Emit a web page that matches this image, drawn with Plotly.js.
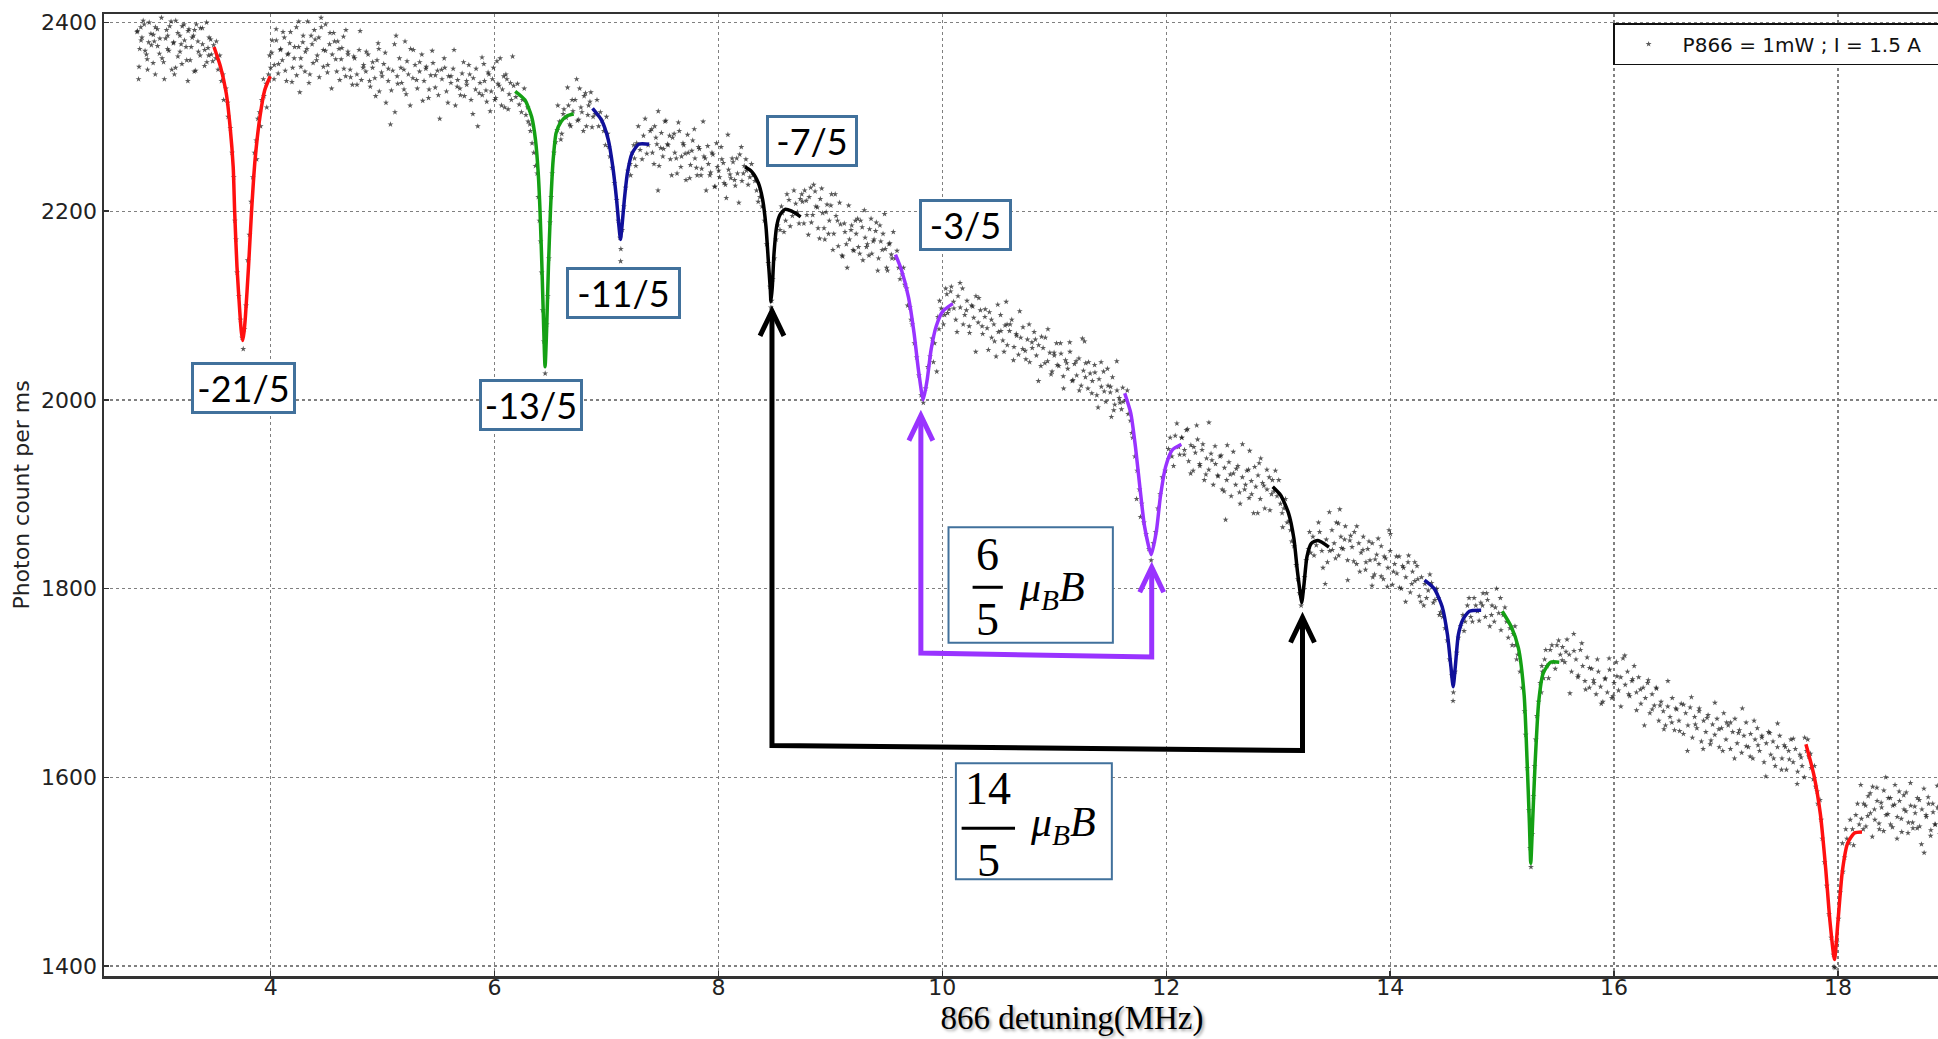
<!DOCTYPE html>
<html><head><meta charset="utf-8">
<script src="https://cdn.plot.ly/plotly-3.0.1.min.js"></script>
<style>html,body{margin:0;padding:0;overflow:hidden;background:#fff}#chart{width:2040px;height:1039px}</style>
</head><body><div id="chart"></div>
<script>
// ---------- measured scan points [detuning MHz, photon count per ms] ----------
const scanStart = [[2.81,2391],[2.82,2340],[2.83,2372],[2.84,2395],[2.85,2384],[2.87,2398],[2.89,2366],[2.90,2350],[2.91,2379],[2.93,2388],[2.95,2357],[2.96,2380],[2.97,2395],[2.99,2375],[3.01,2383],[3.03,2362],[3.05,2340],[3.07,2392],[3.08,2386],[3.09,2370],[3.11,2401],[3.13,2378],[3.14,2345],[3.15,2352],[3.17,2389],[3.19,2369],[3.20,2377],[3.21,2396],[3.23,2381],[3.25,2360],[3.26,2338],[3.27,2393],[3.29,2374],[3.31,2386],[3.32,2392],[3.33,2349],[3.35,2380],[3.37,2365],[3.39,2394],[3.41,2371],[3.43,2358],[3.44,2373],[3.45,2384],[3.47,2366],[3.49,2376],[3.51,2362],
  [2.806,2390],[2.824,2353],[2.842,2381],[2.861,2402],[2.878,2370],[2.897,2361],[2.915,2400],[2.934,2376],[2.952,2387],[2.969,2345],[2.988,2393],[3.006,2367],[3.024,2405],[3.043,2358],[3.061,2383],[3.079,2372],[3.098,2396],[3.116,2350],[3.134,2379],[3.152,2402],[3.171,2364],[3.189,2386],[3.207,2356],[3.226,2398],[3.244,2374],[3.262,2391],[3.281,2360],[3.299,2384],[3.317,2348],[3.336,2398],[3.354,2369],[3.372,2394],[3.391,2377],[3.409,2354],[3.427,2400],[3.446,2365],[3.464,2382],[3.482,2359]];
const scanDipRed1 = [[3.515,2380],[3.53,2350],[3.545,2365],[3.56,2338],[3.575,2345],[3.58,2318],[3.60,2330],[3.615,2315],[3.62,2300],[3.64,2288],[3.655,2262],[3.67,2236],[3.68,2190],[3.69,2170],[3.70,2135],[3.715,2110],[3.73,2085],[3.745,2066],[3.755,2054],[3.765,2075],[3.78,2100],[3.795,2148],[3.81,2175],[3.825,2210],[3.84,2236],[3.855,2262],[3.87,2275],[3.875,2255],[3.885,2298],[3.90,2305],[3.91,2290],[3.92,2318],[3.935,2340],[3.94,2322],[3.96,2335],[3.965,2310],[3.98,2345],[3.99,2365],[4.00,2352]];
const scanB = [[4.01,2368],[4.03,2340],[4.05,2381],[4.07,2356],[4.09,2372],[4.11,2390],[4.13,2349],[4.15,2366],[4.17,2378],[4.19,2337],[4.21,2362],[4.23,2395],[4.25,2374],[4.26,2326],[4.27,2353],[4.29,2386],[4.31,2369],[4.33,2401],[4.35,2345],[4.37,2377],[4.39,2392],[4.41,2360],[4.43,2384],[4.45,2405],[4.47,2371],[4.49,2398],[4.51,2355],[4.53,2389],[4.55,2366],[4.57,2380],[4.59,2348],[4.61,2372],[4.63,2361],[4.65,2385],[4.67,2343],[4.69,2369],
  [4.014,2381],[4.032,2355],[4.049,2393],[4.067,2346],[4.086,2371],[4.104,2360],[4.122,2384],[4.141,2338],[4.159,2367],[4.177,2390],[4.196,2352],[4.214,2374],[4.232,2344],[4.251,2401],[4.269,2362],[4.287,2379],[4.306,2348],[4.324,2372],[4.342,2336],[4.361,2386],[4.379,2357],[4.397,2382],[4.416,2365],[4.434,2342],[4.452,2395],[4.471,2353],[4.489,2370],[4.507,2347],[4.526,2377],[4.544,2330],[4.562,2389],[4.581,2361],[4.599,2380],[4.617,2339],[4.636,2373],[4.654,2351],[4.672,2392],[4.691,2366]];
const scanC = [[4.71,2350],[4.73,2334],[4.75,2362],[4.77,2345],[4.79,2371],[4.81,2339],[4.83,2355],[4.85,2348],[4.87,2366],[4.89,2332],[4.91,2352],[4.93,2341],[4.95,2360],[4.96,2378],[4.97,2327],[4.99,2347],[5.01,2356],[5.03,2315],[5.05,2338],[5.07,2292],[5.09,2349],[5.11,2305],[5.12,2386],[5.13,2343],[5.15,2362],[5.17,2336],[5.19,2350],[5.20,2380],[5.21,2324],[5.23,2345],[5.25,2372],[5.27,2341],[5.29,2355],[5.31,2330],[5.33,2348],[5.35,2366],[5.37,2338],[5.39,2353],[5.41,2320],[5.43,2344],[5.45,2357],[5.47,2331],[5.49,2349],[5.51,2298],[5.53,2340],[5.55,2362],[5.57,2327],[5.59,2343],[5.61,2336],[5.63,2351],[5.65,2312],[5.67,2339],[5.69,2330],[5.71,2346],[5.73,2322],[5.75,2338],[5.77,2355],[5.79,2318],[5.81,2341],[5.83,2329],[5.85,2290],[5.87,2336],[5.89,2323],
  [4.714,2342],[4.742,2364],[4.771,2334],[4.799,2391],[4.826,2352],[4.854,2369],[4.883,2338],[4.911,2358],[4.938,2322],[4.966,2372],[4.995,2343],[5.023,2368],[5.051,2351],[5.078,2328],[5.106,2377],[5.135,2335],[5.163,2352],[5.191,2329],[5.218,2359],[5.246,2312],[5.275,2371],[5.303,2339],[5.331,2358],[5.358,2317],[5.386,2351],[5.415,2329],[5.443,2370],[5.471,2344],[5.498,2323],[5.526,2350],[5.555,2352],[5.583,2315],[5.611,2343],[5.638,2371],[5.666,2332],[5.695,2323],[5.723,2358],[5.751,2334],[5.778,2345],[5.806,2303],[5.835,2351],[5.863,2325],[5.888,2363]];
const scanD = [[5.91,2338],[5.93,2316],[5.95,2345],[5.97,2327],[5.99,2352],[6.01,2320],[6.03,2335],[6.05,2362],[6.07,2329],[6.09,2310],[6.11,2340],[6.13,2324],[6.15,2318],[6.17,2333],
  [5.904,2356],[5.923,2328],[5.942,2347],[5.961,2306],[5.981,2340],[6.002,2318],[6.021,2359],[6.041,2333],[6.062,2312],[6.082,2343],[6.101,2345],[6.121,2308],[6.142,2336],[6.161,2364]];
const scanDipGreen1 = [[6.19,2321],[6.205,2335],[6.22,2313],[6.24,2305],[6.25,2318],[6.265,2330],[6.28,2302],[6.295,2310],[6.30,2295],[6.315,2292],[6.32,2285],[6.335,2272],[6.35,2262],[6.365,2248],[6.38,2240],[6.39,2215],[6.40,2190],[6.41,2168],[6.42,2135],[6.43,2095],[6.44,2062],[6.452,2028],[6.465,2080],[6.475,2110],[6.485,2150],[6.495,2188],[6.505,2215],[6.515,2240],[6.53,2262],[6.545,2273],[6.56,2286],[6.58,2295],[6.60,2282],[6.62,2308],[6.64,2299],[6.66,2312],[6.68,2290],[6.70,2306],[6.72,2318],[6.74,2296],[6.76,2330],[6.78,2305],[6.80,2322],[6.82,2290],[6.84,2312],[6.86,2326],[6.88,2300],
  [6.565,2312],[6.592,2276],[6.613,2303],[6.652,2331],[6.671,2292],[6.693,2318],[6.733,2340],[6.752,2297],[6.771,2310],[6.793,2285],[6.812,2325],[6.833,2302],[6.852,2316],[6.871,2289]];
const scanDipBlue1 = [[6.90,2303],[6.915,2318],[6.93,2290],[6.945,2305],[6.96,2296],[6.975,2285],[6.99,2270],[7.00,2300],[7.01,2282],[7.02,2268],[7.03,2258],[7.05,2246],[7.07,2230],[7.09,2212],[7.105,2190],[7.12,2172],[7.126,2147],[7.128,2160],[7.14,2180],[7.155,2205],[7.17,2225],[7.19,2243],[7.21,2250],[7.215,2238],[7.23,2262],[7.243,2270],[7.25,2256],[7.262,2248],[7.27,2272],[7.284,2290],[7.30,2265],[7.318,2255],[7.33,2280],[7.345,2298],[7.36,2261],[7.372,2270],[7.39,2285]];
const scanE = [[7.41,2262],[7.43,2290],[7.45,2271],[7.46,2222],[7.47,2248],[7.49,2283],[7.51,2266],[7.53,2296],[7.55,2270],[7.57,2255],[7.59,2278],[7.61,2262],[7.63,2240],[7.65,2285],[7.67,2258],[7.69,2270],[7.71,2233],[7.73,2262],[7.75,2249],[7.77,2275],[7.79,2256],[7.81,2238],[7.83,2266],[7.85,2245],[7.87,2258],[7.89,2222],[7.91,2250],[7.93,2241],[7.95,2260],[7.97,2226],[7.99,2247],[8.01,2236],[8.03,2255],[8.05,2230],[8.07,2214],[8.09,2244],[8.11,2235],[8.13,2252],[8.15,2227],[8.17,2240],[8.19,2260],[8.21,2232],[8.23,2248],
  [7.404,2287],[7.424,2250],[7.441,2278],[7.462,2306],[7.484,2267],[7.503,2258],[7.522,2295],[7.544,2271],[7.563,2280],[7.582,2238],[7.604,2282],[7.623,2256],[7.642,2294],[7.664,2247],[7.683,2272],[7.702,2261],[7.724,2281],[7.743,2235],[7.762,2264],[7.784,2287],[7.803,2246],[7.822,2268],[7.844,2238],[7.863,2295],[7.882,2256],[7.904,2269],[7.923,2238],[7.942,2262],[7.964,2226],[7.983,2272],[8.002,2243],[8.024,2268],[8.043,2251],[8.062,2228],[8.084,2281],[8.103,2239],[8.122,2256],[8.144,2233],[8.163,2256],[8.182,2209],[8.204,2268],[8.222,2240]];
const scanDipBlack1 = [[8.245,2255],[8.25,2243],[8.265,2228],[8.28,2236],[8.295,2250],[8.31,2238],[8.325,2232],[8.34,2222],[8.355,2210],[8.37,2215],[8.39,2205],[8.41,2190],[8.43,2165],[8.445,2145],[8.46,2120],[8.468,2098],[8.475,2105],[8.485,2128],[8.50,2150],[8.515,2170],[8.53,2185],[8.55,2180],[8.562,2205],[8.57,2198],[8.585,2178],[8.60,2190],[8.612,2218],[8.63,2212],[8.641,2184],[8.66,2195],[8.674,2222],[8.69,2208],[8.705,2199],[8.72,2187],[8.731,2213]];
const scanF = [[8.75,2210],[8.77,2222],[8.79,2196],[8.81,2215],[8.83,2188],[8.85,2228],[8.87,2205],[8.89,2182],[8.91,2213],[8.93,2198],[8.95,2170],[8.97,2207],[8.99,2190],[9.01,2218],[9.03,2176],[9.05,2195],[9.07,2163],[9.09,2186],[9.11,2152],[9.13,2178],[9.15,2140],[9.17,2170],[9.19,2185],[9.21,2158],[9.23,2176],[9.25,2162],[9.27,2190],[9.29,2148],[9.31,2172],[9.33,2165],[9.35,2181],[9.37,2155],[9.39,2170],[9.41,2188],[9.43,2150],[9.45,2168],[9.47,2176],[9.49,2160],[9.51,2137],[9.53,2166],[9.55,2150],
  [8.744,2218],[8.763,2187],[8.784,2211],[8.803,2175],[8.824,2225],[8.842,2196],[8.863,2221],[8.884,2204],[8.903,2171],[8.922,2224],[8.943,2182],[8.962,2199],[8.983,2176],[9.004,2206],[9.022,2159],[9.043,2218],[9.063,2190],[9.082,2209],[9.103,2153],[9.124,2187],[9.142,2165],[9.163,2206],[9.184,2180],[9.202,2159],[9.223,2190],[9.243,2192],[9.262,2155],[9.284,2183],[9.303,2201],[9.322,2162],[9.344,2153],[9.363,2192],[9.382,2168],[9.404,2179],[9.423,2137],[9.442,2185],[9.463,2159],[9.484,2197],[9.502,2140],[9.523,2165],[9.544,2154],[9.562,2178]];
const scanDipPurple1 = [[9.58,2150],[9.595,2158],[9.61,2140],[9.622,2128],[9.64,2133],[9.652,2140],[9.665,2122],[9.68,2118],[9.69,2100],[9.71,2098],[9.72,2085],[9.73,2080],[9.75,2060],[9.77,2045],[9.79,2026],[9.81,2005],[9.83,1997],[9.85,2012],[9.87,2035],[9.89,2046],[9.91,2065],[9.92,2040],[9.93,2060],[9.95,2030],[9.96,2088],[9.97,2075],[9.975,2105],[9.99,2097],[10.01,2080],[10.02,2090],[10.03,2118]];
const scanG = [[10.04,2112],[10.06,2096],[10.08,2120],[10.10,2104],[10.12,2085],[10.14,2110],[10.16,2098],[10.18,2118],[10.20,2090],[10.22,2105],[10.24,2078],[10.26,2100],[10.28,2087],[10.30,2110],[10.32,2082],[10.34,2095],[10.36,2070],[10.38,2088],[10.40,2076],[10.42,2093],[10.44,2066],[10.46,2080],[10.48,2046],[10.50,2072],[10.52,2090],[10.54,2063],[10.56,2079],[10.57,2104],[10.58,2058],[10.60,2073],[10.62,2085],[10.64,2056],[10.66,2070],[10.68,2048],[10.70,2066],[10.72,2077],[10.74,2052],[10.76,2064],[10.78,2040],[10.80,2061],[10.82,2072],[10.84,2047],[10.86,2058],[10.88,2036],[10.90,2055],[10.92,2066],[10.94,2041],[10.96,2050],[10.98,2030],[11.00,2047],[11.02,2060],[11.04,2036],[11.06,2049],[11.08,2025],[11.10,2042],[11.12,2033],[11.14,2051],[11.16,2020],[11.18,2038],[11.20,2026],[11.22,2044],[11.24,2015],[11.26,2031],[11.27,2062],[11.28,2039],[11.30,2012],[11.32,2028],[11.34,2020],[11.36,2037],[11.38,2005],[11.40,2022],[11.42,2014],[11.44,2030],[11.46,1998],[11.48,2015],[11.50,2008],[11.51,1982],[11.52,2024],[11.54,1995],[11.56,2010],[11.58,2002],[11.60,1990],
  [10.047,2092],[10.074,2115],[10.103,2097],[10.131,2072],[10.158,2124],[10.186,2080],[10.215,2095],[10.243,2071],[10.271,2099],[10.298,2051],[10.326,2108],[10.355,2078],[10.383,2096],[10.411,2053],[10.438,2085],[10.466,2062],[10.495,2101],[10.523,2073],[10.551,2051],[10.578,2080],[10.606,2080],[10.635,2042],[10.663,2068],[10.691,2094],[10.718,2054],[10.746,2043],[10.775,2080],[10.803,2055],[10.831,2064],[10.858,2020],[10.886,2067],[10.915,2039],[10.943,2075],[10.971,2027],[10.998,2050],[11.026,2037],[11.055,2060],[11.083,2012],[11.111,2039],[11.138,2061],[11.166,2021],[11.195,2041],[11.223,2010],[11.251,2065],[11.278,2024],[11.306,2040],[11.335,2007],[11.363,2029],[11.391,1992],[11.418,2040],[11.446,2009],[11.475,2033],[11.503,2014],[11.531,1989],[11.558,2041],[11.586,1997],[11.611,2013]];
const scanDipPurple2 = [[11.615,1998],[11.64,2000],[11.652,2010],[11.66,1985],[11.68,1978],[11.692,1965],[11.70,1960],[11.72,1940],[11.735,1895],[11.74,1925],[11.76,1905],[11.77,1876],[11.78,1890],[11.80,1870],[11.82,1858],[11.845,1842],[11.865,1830],[11.885,1848],[11.905,1860],[11.925,1885],[11.945,1900],[11.965,1918],[11.99,1925],[12.02,1948],[12.035,1960],[12.05,1940],[12.065,1930],[12.08,1962],[12.095,1975],[12.11,1950],[12.12,1942]];
const scanH = [[12.14,1960],[12.16,1942],[12.18,1968],[12.20,1935],[12.22,1952],[12.24,1925],[12.26,1944],[12.28,1958],[12.30,1930],[12.32,1947],[12.34,1915],[12.36,1938],[12.38,1926],[12.40,1943],[12.42,1910],[12.44,1932],[12.46,1920],[12.48,1940],[12.50,1905],[12.52,1928],[12.53,1873],[12.54,1915],[12.56,1934],[12.58,1898],[12.60,1922],[12.62,1910],[12.64,1930],[12.66,1890],[12.68,1918],[12.70,1905],[12.72,1925],[12.74,1896],[12.745,1946],[12.76,1914],[12.78,1880],[12.80,1908],[12.82,1920],[12.83,1933],[12.84,1895],[12.86,1912],[12.88,1885],[12.90,1905],[12.92,1918],[12.94,1900],
  [12.137,1960],[12.163,1947],[12.191,1969],[12.218,1922],[12.246,1950],[12.272,1973],[12.299,1932],[12.327,1953],[12.354,1921],[12.381,1976],[12.408,1936],[12.436,1951],[12.463,1919],[12.49,1941],[12.517,1903],[12.545,1952],[12.572,1921],[12.599,1945],[12.626,1927],[12.654,1902],[12.681,1953],[12.708,1910],[12.735,1926],[12.763,1900],[12.79,1929],[12.817,1880],[12.844,1938],[12.872,1909],[12.899,1926],[12.926,1883],[12.948,1915]];
const scanDipBlack2 = [[12.96,1903],[12.975,1925],[12.99,1898],[13.005,1915],[13.02,1890],[13.035,1880],[13.04,1865],[13.05,1885],[13.065,1895],[13.08,1870],[13.10,1872],[13.11,1862],[13.12,1850],[13.14,1845],[13.16,1825],[13.175,1810],[13.19,1795],[13.205,1782],[13.22,1798],[13.235,1812],[13.25,1830],[13.27,1842],[13.28,1860],[13.29,1838],[13.31,1855],[13.32,1835],[13.34,1846],[13.36,1870],[13.37,1860],[13.39,1840],[13.40,1822],[13.42,1805],[13.43,1852],[13.44,1828]];
const scanI = [[13.46,1840],[13.48,1862],[13.50,1848],[13.52,1870],[13.54,1835],[13.55,1884],[13.56,1855],[13.58,1842],[13.60,1866],[13.62,1830],[13.64,1851],[13.66,1844],[13.68,1860],[13.70,1826],[13.72,1848],[13.74,1838],[13.76,1855],[13.78,1820],[13.80,1842],[13.82,1830],[13.84,1848],[13.845,1812],[13.86,1815],[13.88,1836],[13.90,1826],[13.92,1845],[13.94,1810],[13.96,1832],[13.98,1822],[13.99,1862],[14.00,1840],[14.02,1804],[14.04,1826],[14.06,1816],[14.08,1834],[14.10,1800],[14.12,1822],[14.14,1812],[14.16,1828],[14.18,1796],[14.20,1818],[14.22,1808],[14.24,1824],[14.26,1792],[14.28,1812],[14.30,1782],
  [13.457,1881],[13.484,1841],[13.512,1832],[13.538,1869],[13.566,1843],[13.593,1852],[13.621,1809],[13.647,1856],[13.675,1829],[13.702,1866],[13.729,1818],[13.757,1841],[13.784,1828],[13.811,1850],[13.838,1803],[13.866,1831],[13.893,1853],[13.92,1813],[13.947,1834],[13.975,1802],[14.002,1858],[14.029,1818],[14.056,1834],[14.084,1801],[14.111,1824],[14.138,1786],[14.165,1835],[14.193,1805],[14.22,1828],[14.247,1810],[14.274,1786]];
const scanDipBlue2 = [[14.31,1805],[14.325,1790],[14.34,1798],[14.355,1815],[14.37,1806],[14.385,1785],[14.40,1788],[14.415,1800],[14.43,1790],[14.44,1772],[14.45,1775],[14.47,1770],[14.49,1758],[14.51,1745],[14.53,1725],[14.55,1708],[14.562,1681],[14.565,1690],[14.58,1712],[14.595,1732],[14.61,1748],[14.63,1760],[14.65,1772],[14.66,1755],[14.67,1765],[14.69,1782],[14.705,1790],[14.72,1770],[14.735,1765],[14.75,1790],[14.765,1782],[14.78,1776],[14.795,1766],[14.81,1785],[14.825,1782],[14.83,1795],[14.85,1770],[14.862,1795],[14.87,1788],[14.89,1760],[14.905,1772],[14.91,1782],[14.93,1765],[14.94,1780],[14.95,1800],[14.97,1774],[14.985,1790],[14.99,1756]];
const scanDipGreen2 = [[15.01,1772],[15.025,1780],[15.04,1765],[15.055,1748],[15.07,1758],[15.09,1740],[15.10,1752],[15.115,1760],[15.12,1740],[15.13,1725],[15.14,1730],[15.16,1712],[15.18,1695],[15.20,1670],[15.21,1645],[15.225,1610],[15.24,1565],[15.25,1525],[15.258,1505],[15.27,1540],[15.28,1580],[15.29,1612],[15.30,1640],[15.31,1665],[15.325,1680],[15.34,1700],[15.35,1690],[15.355,1718],[15.36,1712],[15.37,1705],[15.38,1725],[15.39,1735],[15.40,1718],[15.415,1705],[15.43,1735],[15.445,1740],[15.46,1722],[15.475,1715],[15.49,1740],[15.505,1745],[15.52,1730]];
const scanJ = [[15.54,1738],[15.56,1722],[15.58,1746],[15.60,1730],[15.62,1712],[15.64,1752],[15.66,1725],[15.68,1708],[15.70,1735],[15.72,1718],[15.74,1702],[15.76,1727],[15.78,1695],[15.80,1715],[15.82,1700],[15.84,1688],[15.86,1712],[15.88,1696],[15.90,1680],[15.92,1704],[15.94,1690],[15.96,1714],[15.98,1684],[16.00,1700],[16.02,1722],[16.04,1692],[16.06,1706],[16.08,1726],[16.10,1698],[16.12,1712],[16.14,1686],[16.16,1702],[16.18,1718],[16.20,1690],[16.22,1706],[16.24,1678],[16.26,1695],[16.28,1684],[16.30,1700],[16.32,1668],[16.34,1688],[16.36,1676],[16.38,1694],[16.40,1660],[16.42,1680],[16.44,1670],[16.46,1655],[16.48,1675],[16.50,1664],[16.52,1684],[16.54,1650],[16.56,1672],[16.58,1660],[16.60,1678],[16.62,1646],[16.64,1668],[16.66,1655],[16.68,1674],[16.70,1642],[16.72,1664],[16.74,1652],[16.76,1670],[16.78,1638],[16.80,1660],[16.82,1648],[16.84,1666],[16.86,1635],[16.88,1656],[16.90,1645],[16.92,1662],[16.94,1632],[16.96,1652],[16.98,1668],[17.00,1640],[17.02,1655],[17.04,1630],[17.06,1648],[17.08,1662],[17.10,1636],[17.12,1650],[17.14,1626],[17.16,1644],[17.18,1658],[17.20,1632],[17.22,1646],[17.24,1620],[17.26,1640],[17.28,1652],[17.30,1628],[17.32,1642],[17.34,1616],[17.36,1636],[17.38,1648],[17.40,1624],[17.42,1638],[17.44,1612],[17.46,1632],[17.48,1644],[17.50,1620],[17.52,1634],[17.54,1608],[17.56,1628],[17.58,1640],[17.60,1616],[17.62,1630],[17.64,1606],[17.66,1624],[17.68,1612],[17.70,1600],
  [15.537,1724],[15.571,1733],[15.606,1689],[15.642,1734],[15.677,1706],[15.712,1742],[15.746,1693],[15.781,1716],[15.817,1703],[15.851,1725],[15.886,1678],[15.921,1705],[15.956,1726],[15.991,1686],[16.026,1707],[16.061,1675],[16.096,1729],[16.131,1688],[16.166,1704],[16.201,1671],[16.236,1693],[16.271,1655],[16.306,1703],[16.341,1672],[16.376,1695],[16.411,1676],[16.446,1651],[16.481,1702],[16.516,1658],[16.551,1673],[16.586,1649],[16.621,1677],[16.656,1628],[16.691,1685],[16.726,1656],[16.761,1673],[16.796,1630],[16.831,1663],[16.866,1639],[16.901,1679],[16.936,1651],[16.971,1628],[17.006,1658],[17.041,1658],[17.076,1620],[17.111,1647],[17.146,1673],[17.181,1633],[17.216,1622],[17.251,1660],[17.286,1634],[17.321,1644],[17.356,1601],[17.391,1647],[17.426,1620],[17.461,1657],[17.496,1608],[17.531,1632],[17.566,1619],[17.601,1641],[17.636,1593],[17.671,1621],[17.703,1642]];
const scanDipRed2 = [[17.72,1628],[17.73,1640],[17.74,1622],[17.755,1625],[17.76,1610],[17.78,1598],[17.79,1612],[17.80,1590],[17.815,1585],[17.82,1572],[17.84,1576],[17.85,1555],[17.86,1535],[17.88,1510],[17.90,1485],[17.92,1455],[17.94,1430],[17.96,1412],[17.965,1399],[17.975,1398],[17.99,1425],[18.005,1450],[18.02,1478],[18.04,1530],[18.045,1500],[18.06,1515],[18.07,1545],[18.08,1535],[18.10,1530],[18.11,1555],[18.13,1545],[18.14,1528],[18.16,1560],[18.175,1572],[18.19,1550]];
const scanEnd = [[18.21,1556],[18.23,1572],[18.25,1548],[18.27,1580],[18.29,1562],[18.31,1590],[18.33,1555],[18.35,1575],[18.37,1545],[18.39,1568],[18.41,1586],[18.43,1560],[18.45,1578],[18.47,1550],[18.49,1570],[18.51,1592],[18.53,1558],[18.55,1575],[18.57,1542],[18.59,1566],[18.61,1584],[18.63,1552],[18.65,1570],[18.67,1546],[18.69,1562],[18.71,1578],[18.73,1548],[18.75,1566],[18.77,1520],[18.79,1558],[18.81,1572],[18.83,1544],[18.85,1563],[18.87,1550],[18.89,1568],[18.91,1540],[18.93,1560],
  [18.204,1592],[18.226,1545],[18.247,1570],[18.266,1559],[18.288,1583],[18.307,1537],[18.326,1566],[18.348,1589],[18.367,1551],[18.386,1573],[18.408,1543],[18.427,1600],[18.446,1561],[18.468,1578],[18.487,1547],[18.506,1571],[18.528,1535],[18.547,1585],[18.566,1556],[18.588,1581],[18.607,1564],[18.626,1541],[18.648,1594],[18.667,1552],[18.686,1569],[18.708,1546],[18.727,1576],[18.746,1529],[18.768,1588],[18.787,1560],[18.806,1579],[18.828,1538],[18.847,1572],[18.866,1550],[18.888,1591],[18.907,1565],[18.926,1544],[18.948,1575]];

// ---------- fitted resonance curves ----------
const fitRed1X = [3.494,3.552,3.603,3.637,3.665,3.678,3.699,3.727,3.738,3.750,3.762,3.774,3.802,3.829,3.860,3.904,3.946,3.996];
const fitRed1Y = [2374,2353,2325,2290,2247,2200,2141,2088,2072,2063,2072,2088,2141,2200,2254,2300,2328,2343];
const fitGreen1X = [6.184,6.270,6.331,6.365,6.390,6.406,6.423,6.440,6.451,6.464,6.481,6.499,6.523,6.550,6.595,6.646,6.707];
const fitGreen1Y = [2327,2318,2300,2276,2240,2200,2141,2071,2035,2071,2141,2200,2254,2283,2295,2301,2303];
const fitBlue1X = [6.875,6.953,7.015,7.056,7.090,7.111,7.125,7.138,7.159,7.186,7.227,7.288,7.381];
const fitBlue1Y = [2309,2297,2276,2247,2212,2184,2170,2184,2212,2240,2261,2271,2271];
const fitBlack1X = [8.237,8.297,8.356,8.395,8.424,8.445,8.463,8.469,8.481,8.496,8.520,8.549,8.594,8.654,8.734];
const fitBlack1Y = [2247,2242,2230,2212,2184,2148,2117,2104,2120,2155,2184,2196,2202,2200,2194];
const fitPurple1X = [9.581,9.634,9.697,9.747,9.786,9.829,9.864,9.899,9.945,10.005,10.093];
const fitPurple1Y = [2154,2138,2109,2071,2032,2000,2021,2053,2078,2094,2102];
const fitPurple2X = [11.629,11.683,11.725,11.764,11.806,11.866,11.913,11.947,11.994,12.054,12.135];
const fitPurple2Y = [2007,1986,1950,1908,1866,1836,1862,1897,1929,1947,1953];
const fitBlack2X = [12.951,13.022,13.092,13.140,13.171,13.199,13.210,13.230,13.257,13.296,13.355,13.453];
const fitBlack2Y = [1908,1899,1880,1853,1819,1793,1785,1804,1834,1848,1851,1844];
const fitBlue2X = [14.307,14.394,14.464,14.512,14.543,14.563,14.582,14.609,14.649,14.708,14.813];
const fitBlue2Y = [1809,1800,1781,1751,1717,1696,1717,1751,1767,1776,1777];
const fitGreen2X = [15.001,15.080,15.146,15.197,15.224,15.244,15.256,15.272,15.295,15.327,15.366,15.433,15.511];
const fitGreen2Y = [1776,1760,1737,1687,1615,1551,1509,1551,1615,1680,1710,1722,1722];
const fitRed2X = [17.714,17.784,17.843,17.890,17.929,17.969,18.000,18.039,18.086,18.148,18.215];
const fitRed2Y = [1635,1603,1561,1504,1447,1407,1447,1500,1530,1541,1542];

// ---------- labels ----------
const xTickVals = [4, 6, 8, 10, 12, 14, 16, 18];
const yTickVals = [1400, 1600, 1800, 2000, 2200, 2400];
const legendName = 'P866 = 1mW ; I = 1.5 A';
const xTitle = '866 detuning(MHz)';
const yTitle = 'Photon count per ms';
const levelLabels = ['-21/5', '-13/5', '-11/5', '-7/5', '-3/5'];
const splitNumerators = ['6', '14'];
const splitDenominator = '5';

// ---------- build ----------
const scanAll = [].concat(scanStart, scanDipRed1, scanB, scanC, scanD, scanDipGreen1, scanDipBlue1, scanE,
  scanDipBlack1, scanF, scanDipPurple1, scanG, scanDipPurple2, scanH, scanDipBlack2, scanI, scanDipBlue2,
  scanDipGreen2, scanJ, scanDipRed2, scanEnd);

const RED = '#ff1010', GREEN = '#14a014', BLUE = '#10109a', BLACK = '#000000', PURPLE = '#9933ff', BOXBLUE = '#41719c';

const traces = [{
  type: 'scatter', mode: 'markers', name: legendName + '\u00a0\u00a0\u00a0',
  x: scanAll.map(p => p[0]), y: scanAll.map(p => p[1]),
  marker: {symbol: 'star', size: 4.5, color: 'rgba(25,25,25,0.72)', line: {width: 0}},
  showlegend: true
}];
const fits = [[fitRed1X, fitRed1Y, RED], [fitGreen1X, fitGreen1Y, GREEN], [fitBlue1X, fitBlue1Y, BLUE],
  [fitBlack1X, fitBlack1Y, BLACK], [fitPurple1X, fitPurple1Y, PURPLE], [fitPurple2X, fitPurple2Y, PURPLE],
  [fitBlack2X, fitBlack2Y, BLACK], [fitBlue2X, fitBlue2Y, BLUE], [fitGreen2X, fitGreen2Y, GREEN], [fitRed2X, fitRed2Y, RED]];
fits.forEach(f => traces.push({
  type: 'scatter', mode: 'lines', x: f[0], y: f[1], showlegend: false, hoverinfo: 'skip',
  line: {color: f[2], width: 3.5, shape: 'spline', smoothing: 0.6}
}));

// label boxes: [x, y, width, height]
const labelPos = [[3.757, 2012.1, 99, 46], [6.321, 1994.3, 98, 46], [7.154, 2113.5, 109, 46], [8.835, 2274.9, 86, 46], [10.209, 2185.1, 87, 46]];
const annotations = levelLabels.map((t, i) => ({
  text: t, x: labelPos[i][0], y: labelPos[i][1], xref: 'x', yref: 'y', showarrow: false,
  width: labelPos[i][2], height: labelPos[i][3], bgcolor: '#ffffff', bordercolor: BOXBLUE, borderwidth: 3, borderpad: 0,
  font: {family: 'Lato, "Noto Sans", sans-serif', size: 36, color: '#000'}
}));

const fracFont = {family: '"Liberation Serif", serif', size: 46, color: '#000'};
const muFont = {family: '"Liberation Serif", serif', size: 42, color: '#000'};
const muText = '<i>μ</i><sub><i>B</i></sub><i>B</i>';
annotations.push(
  {text: splitNumerators[0], x: 10.405, y: 1836, xref: 'x', yref: 'y', showarrow: false, font: fracFont},
  {text: splitDenominator, x: 10.405, y: 1767, xref: 'x', yref: 'y', showarrow: false, font: fracFont},
  {text: muText, x: 10.975, y: 1799, xref: 'x', yref: 'y', showarrow: false, font: muFont},
  {text: splitNumerators[1], x: 10.405, y: 1588, xref: 'x', yref: 'y', showarrow: false, font: fracFont},
  {text: splitDenominator, x: 10.410, y: 1512, xref: 'x', yref: 'y', showarrow: false, font: fracFont},
  {text: muText, x: 11.078, y: 1549, xref: 'x', yref: 'y', showarrow: false, font: muFont}
);

const chevron = (x, y) => 'M ' + (x - 0.107) + ',' + (y - 26.5) + ' L ' + x + ',' + y + ' L ' + (x + 0.107) + ',' + (y - 26.5);
const shapes = [
  {type: 'rect', xref: 'x', yref: 'y', x0: 10.055, x1: 11.523, y0: 1742.6, y1: 1864.9, fillcolor: '#fff', line: {color: BOXBLUE, width: 2}, layer: 'above'},
  {type: 'line', xref: 'x', yref: 'y', x0: 10.27, x1: 10.54, y0: 1801.4, y1: 1801.4, line: {color: '#000', width: 3}, layer: 'above'},
  {type: 'rect', xref: 'x', yref: 'y', x0: 10.121, x1: 11.514, y0: 1492.0, y1: 1614.9, fillcolor: '#fff', line: {color: BOXBLUE, width: 2}, layer: 'above'},
  {type: 'line', xref: 'x', yref: 'y', x0: 10.172, x1: 10.649, y0: 1545.9, y1: 1545.9, line: {color: '#000', width: 3}, layer: 'above'},
  {type: 'path', xref: 'x', yref: 'y', path: 'M 8.478,2094 L 8.478,1633.7 L 13.217,1628.4 L 13.217,1769', line: {color: BLACK, width: 5}, layer: 'above'},
  {type: 'path', xref: 'x', yref: 'y', path: 'M 9.808,1983 L 9.808,1731.7 L 11.870,1727.5 L 11.870,1822', line: {color: PURPLE, width: 5}, layer: 'above'},
  {type: 'path', xref: 'x', yref: 'y', path: chevron(8.478, 2094.3), line: {color: BLACK, width: 5}, layer: 'above'},
  {type: 'path', xref: 'x', yref: 'y', path: chevron(13.217, 1769.4), line: {color: BLACK, width: 5}, layer: 'above'},
  {type: 'path', xref: 'x', yref: 'y', path: chevron(9.808, 1983.3), line: {color: PURPLE, width: 5}, layer: 'above'},
  {type: 'path', xref: 'x', yref: 'y', path: chevron(11.870, 1822.6), line: {color: PURPLE, width: 5}, layer: 'above'}
];

const axisCommon = {
  showline: true, linecolor: '#333', linewidth: 2.5, mirror: true,
  ticks: 'inside', ticklen: 5, tickwidth: 1.5, tickcolor: '#333',
  showgrid: true, gridcolor: '#808080', gridwidth: 1.3, griddash: 'dot', zeroline: false,
  tickfont: {family: '"DejaVu Sans", sans-serif', size: 22, color: '#222'}
};

const layout = {
  width: 2040, height: 1039,
  margin: {l: 104, r: 0, t: 14, b: 63},
  paper_bgcolor: '#fff', plot_bgcolor: '#fff',
  xaxis: Object.assign({}, axisCommon, {
    range: [2.511, 19.805], tickmode: 'array', tickvals: xTickVals, ticklabelstandoff: -10,
    title: {text: xTitle, standoff: 5, font: {family: '"Liberation Serif", serif', size: 33, color: '#000', shadow: '2px 2px 3px rgba(0,0,0,0.35)'}}
  }),
  yaxis: Object.assign({}, axisCommon, {
    range: [1389.4, 2409.0], tickmode: 'array', tickvals: yTickVals,
    title: {text: yTitle, standoff: 6, font: {family: '"DejaVu Sans", sans-serif', size: 22, color: '#222'}}
  }),
  showlegend: true,
  legend: {x: 0.7795, y: 0.9906, xanchor: 'left', yanchor: 'top', bgcolor: '#fff', bordercolor: '#111', borderwidth: 1.5,
    itemwidth: 58, font: {family: '"DejaVu Sans", sans-serif', size: 20, color: '#111'}},
  annotations: annotations,
  shapes: shapes
};

Plotly.newPlot('chart', traces, layout, {displayModeBar: false, staticPlot: true});
</script></body></html>
